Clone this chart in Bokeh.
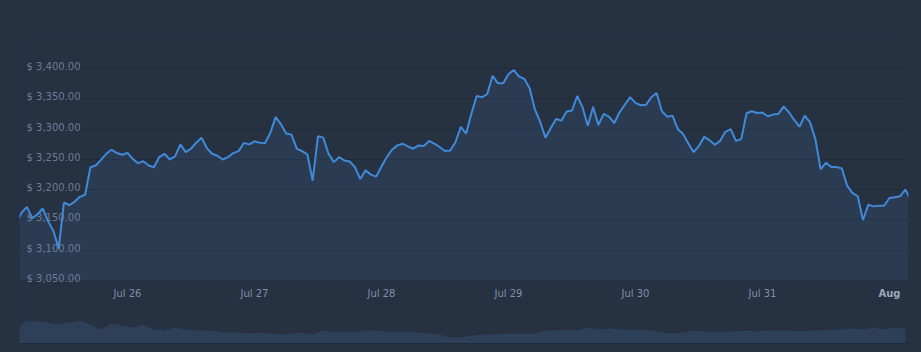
import pandas as pd
from bokeh.plotting import figure
from bokeh.layouts import column
from bokeh.models import Range1d, FixedTicker, Span
from bokeh.core.properties import value
from bokeh.embed import file_html
from bokeh.resources import INLINE

# ---- data -------------------------------------------------------------
start_time = "2024-07-25 03:00"          # hourly price series
prices = [
    3145.6, 3162.0, 3171.7, 3152.8, 3159.4, 3168.9, 3148.0, 3132.0, 3103.0, 3178.9,
    3174.4, 3180.0, 3188.3, 3191.7, 3237.2, 3240.0, 3249.4, 3259.4, 3266.1, 3260.6,
    3257.8, 3261.0, 3251.0, 3243.9, 3247.2, 3240.0, 3237.2, 3253.9, 3259.4, 3250.0,
    3255.0, 3275.0, 3262.2, 3267.8, 3277.8, 3286.1, 3268.9, 3259.4, 3256.1, 3250.0,
    3253.9, 3260.6, 3263.9, 3277.2, 3275.0, 3280.0, 3277.8, 3277.2, 3293.9, 3320.0,
    3308.3, 3292.8, 3291.1, 3267.8, 3263.9, 3258.3, 3215.0, 3288.3, 3286.1, 3259.4,
    3245.6, 3253.9, 3248.3, 3246.7, 3237.2, 3217.8, 3232.0, 3225.0, 3221.7, 3238.3,
    3253.9, 3266.1, 3273.3, 3276.1, 3271.7, 3267.8, 3273.3, 3272.2, 3280.6, 3276.1,
    3270.6, 3263.9, 3265.0, 3278.9, 3303.9, 3292.8, 3326.1, 3355.0, 3352.8, 3358.3,
    3388.3, 3376.1, 3376.1, 3391.1, 3397.8, 3387.2, 3383.3, 3367.8, 3332.8, 3312.2,
    3286.0, 3302.0, 3317.0, 3314.2, 3329.2, 3330.8, 3355.0, 3336.4, 3305.8, 3337.0,
    3307.0, 3325.3, 3320.8, 3310.3, 3328.1, 3340.8, 3353.0, 3343.6, 3339.7, 3340.3,
    3353.0, 3360.0, 3329.7, 3320.8, 3322.5, 3300.3, 3292.0, 3276.4, 3262.0, 3272.5,
    3287.5, 3282.0, 3274.2, 3280.8, 3295.8, 3300.3, 3280.8, 3283.6, 3326.4, 3329.7,
    3326.9, 3327.5, 3321.4, 3324.2, 3325.3, 3337.5, 3328.1, 3315.3, 3304.2, 3322.5,
    3311.4, 3283.6, 3233.6, 3244.7, 3237.5, 3237.5, 3235.3, 3206.9, 3194.7, 3189.2,
    3150.0, 3175.3, 3172.5, 3173.6, 3173.6, 3186.4, 3187.5, 3189.2, 3200.3, 3184.0,
]

nav_start = "2024-07-25 03:00"           # 2-hourly navigator series
nav_values = [
    14, 23, 22, 21, 19, 21, 23, 19, 14, 20, 18, 16, 19, 14, 13, 16, 14, 13, 13, 12,
    11, 11, 10, 11, 10, 9, 10, 11, 9, 13, 11, 12, 11, 13, 13, 12, 11, 12, 11, 10,
    9, 6, 6, 8, 9, 9, 10, 10, 10, 10, 13, 13, 14, 13, 16, 14, 15, 14, 14, 14,
    13, 11, 10, 11, 13, 12, 11, 12, 12, 13, 12, 13, 13, 13, 12, 13, 13, 14, 14, 15,
    14, 16, 14, 16, 15,
]

view_start = "2024-07-25 03:36"
view_end = "2024-08-01 03:36"
y_min, y_max = 3050, 3450
y_view_min = 3045        # a little room below the lowest grid line for its label
grid_values = [3050, 3100, 3150, 3200, 3250, 3300, 3350, 3400, 3450]
label_values = [3050, 3100, 3150, 3200, 3250, 3300, 3350, 3400]
y_labels = ["$ " + f"{v:,.2f}" for v in label_values]

x_tick_days = ["2024-07-26", "2024-07-27", "2024-07-28", "2024-07-29",
               "2024-07-30", "2024-07-31"]
x_tick_labels = ["Jul 26", "Jul 27", "Jul 28", "Jul 29", "Jul 30", "Jul 31"]
month_ticks = ["2024-08-01"]
month_labels = ["Aug"]

# ---- styling ----------------------------------------------------------
BG = "#263142"
GRID = "#202a39"
LINE = "#4189d9"
LABEL = "#6c7d99"
XLABEL = "#7f90ab"
FONT = "DejaVu Sans"
LABEL_ROW = 50          # height (px) of the date-label row above the navigator baseline

times = pd.date_range(start_time, periods=len(prices), freq="h")
nav_times = pd.date_range(nav_start, periods=len(nav_values), freq="2h")
x0 = pd.Timestamp(view_start)
x1 = pd.Timestamp(view_end)

# ---- main price chart ---------------------------------------------------
p = figure(width=921, height=283, x_axis_type="datetime", x_axis_location=None,
           y_axis_location=None,
           x_range=Range1d(x0, x1), y_range=Range1d(y_view_min, y_max),
           output_backend="svg", toolbar_location=None,
           min_border_left=19, min_border_right=13,
           min_border_top=38, min_border_bottom=0)
p.background_fill_color = BG
p.border_fill_color = BG
p.outline_line_color = None
p.xgrid.visible = False
p.ygrid.ticker = FixedTicker(ticks=grid_values)
p.ygrid.grid_line_color = GRID
p.ygrid.grid_line_width = 1

p.varea(x=times, y1=y_min, y2=prices, fill_color="#4682c8", fill_alpha=0.12)
p.text(x=[x0] * len(label_values), y=label_values, text=y_labels,
       x_offset=7, y_offset=-2, text_baseline="alphabetic", text_align="left",
       text_font=value(FONT), text_font_size="10px", text_color=LABEL)
p.line(x=times, y=prices, line_color=LINE, line_width=2)

# ---- date labels + navigator --------------------------------------------
nav = figure(width=921, height=69, x_axis_type="datetime",
             x_range=Range1d(x0, x1), y_range=Range1d(0, 60),
             output_backend="svg", toolbar_location=None,
             min_border_left=19, min_border_right=13,
             min_border_top=0, min_border_bottom=9)
nav.background_fill_color = BG
nav.border_fill_color = BG
nav.outline_line_color = None
nav.axis.visible = False
nav.grid.visible = False

nav.text(x=pd.to_datetime(x_tick_days), y=[LABEL_ROW] * len(x_tick_days),
         text=x_tick_labels, text_align="center", text_baseline="middle",
         text_font=value(FONT), text_font_size="10px", text_color=XLABEL)
nav.text(x=pd.to_datetime(month_ticks), y=[LABEL_ROW] * len(month_ticks),
         text=month_labels, text_align="center", text_baseline="middle",
         text_font=value(FONT), text_font_size="10px", text_font_style="bold",
         text_color="#9aa8bf")

nav.varea(x=nav_times, y1=0, y2=nav_values, fill_color="#2e3f58", fill_alpha=1)
nav.add_layout(Span(location=0, dimension="width", line_color="#1c2533", line_width=1))

layout = column(p, nav, spacing=0)
layout.styles = {"background-color": BG}
open("out.html", "w").write(file_html(layout, INLINE))
